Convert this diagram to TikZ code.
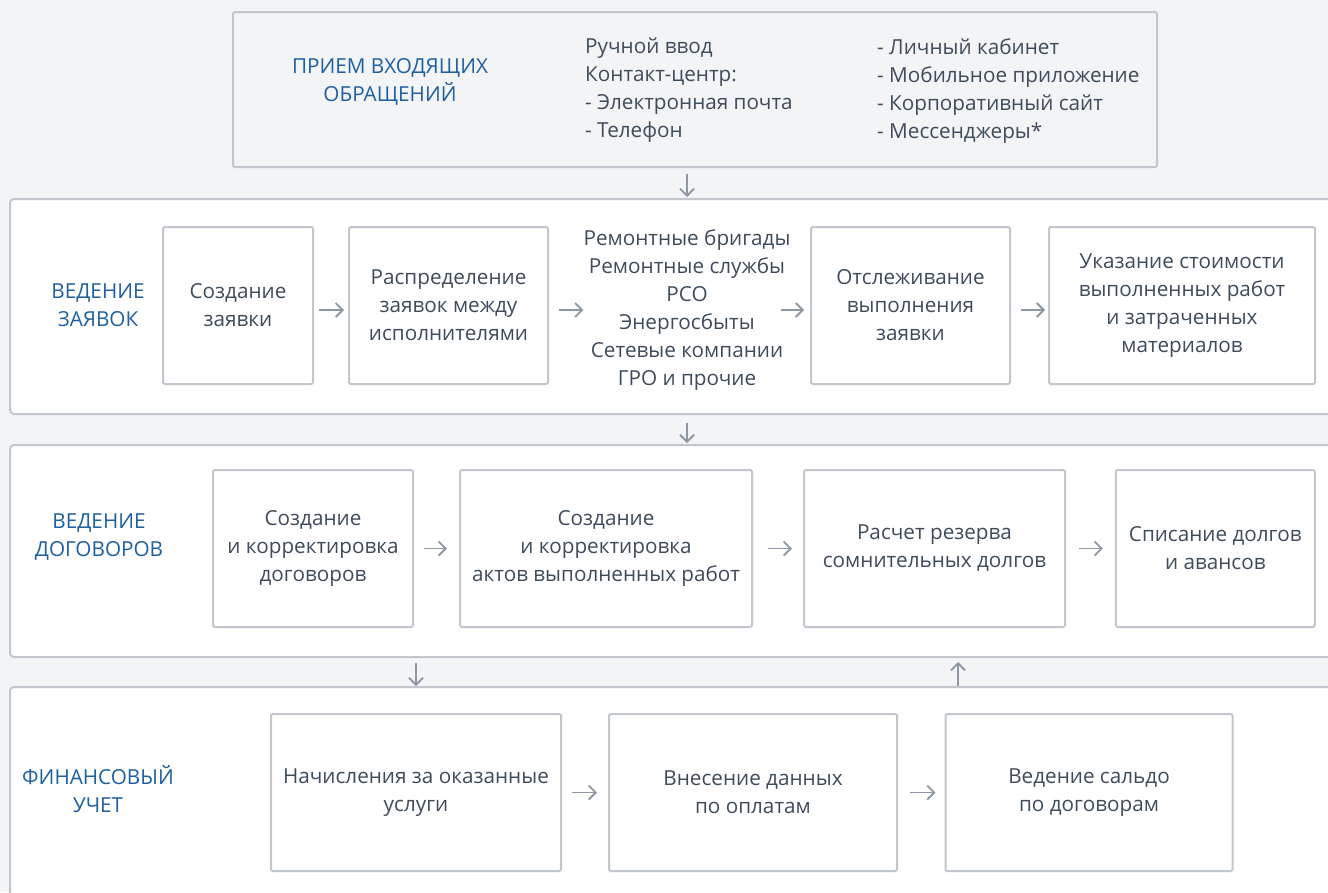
\documentclass[tikz,border=0pt]{standalone}
\usepackage{fontspec}
\setmainfont{Open Sans}
\usepackage{xcolor}
\usepackage{tikz}
\usetikzlibrary{arrows.meta}

\definecolor{pagegray}{HTML}{F3F4F6}
\definecolor{linegray}{HTML}{C2C7CE}
\definecolor{arrowgray}{HTML}{8E98A5}
\definecolor{textgray}{HTML}{3F4C5B}
\definecolor{headblue}{HTML}{1F60A0}

\begin{document}
\begin{tikzpicture}[x=1pt, y=-1pt,
  every node/.style={font=\fontsize{20.7}{28}\selectfont, text=textgray},
  section/.style={draw=linegray, line width=2pt, fill=white, rounded corners=4pt, inner sep=0pt},
  stepbox/.style={draw=linegray, line width=2pt, fill=white, rounded corners=2pt, align=center, minimum height=157pt},
  heading/.style={text=headblue, align=center},
  flow/.style={draw=arrowgray, line width=1.8pt, -{Straight Barb[length=7pt,width=14pt]}}
]

\useasboundingbox (0,0) rectangle (1328,892);
\clip (0,0) rectangle (1328,892);
\fill[pagegray] (0,0) rectangle (1328,892);

% sections
\node[section, fill=pagegray, rounded corners=2pt] (intake) at (695,89.5) [minimum width=924pt, minimum height=155pt] {};
\node[section] (orders) at (677.5,306.5) [minimum width=1335pt, minimum height=215pt] {};
\node[section] (contracts) at (677.5,551) [minimum width=1335pt, minimum height=212pt] {};
\node[section] (finance) at (677.5,796) [minimum width=1335pt, minimum height=218pt] {};

\coordinate (backx) at (958,0);


\begin{scope}

\node[heading] (intakelabel) at (390,82) {ПРИЕМ ВХОДЯЩИХ\\ОБРАЩЕНИЙ};

\node[align=left, anchor=north west, inner sep=0pt] (manual) at (585,38)
{Ручной ввод\\Контакт-центр:\\- Электронная почта\\- Телефон};
\node[align=left, anchor=north west, inner sep=0pt] (online) at (877,38)
{- Личный кабинет\\- Мобильное приложение\\- Корпоративный сайт\\- Мессенджеры*};

\end{scope}


\begin{scope}

\node[heading] (orderslabel) at (98,305) {ВЕДЕНИЕ\\ЗАЯВОК};

\node[stepbox] (o1) at (238,305.5) [minimum width=150pt] {Создание\\заявки};
\node[stepbox] (o2) at (448.5,305.5) [minimum width=199pt] {Распределение\\заявок между\\исполнителями};
\node[align=center, inner sep=0pt] (crews) at (687,310)
{Ремонтные бригады\\Ремонтные службы\\РСО\\Энергосбыты\\Сетевые компании\\ГРО и прочие};
\node[stepbox] (o3) at (910.5,305.5) [minimum width=199pt] {Отслеживание\\выполнения\\заявки};
\node[stepbox] (o4) at (1182,305.5) [minimum width=266pt] {Указание стоимости\\выполненных работ\\и затраченных\\материалов};

\draw[flow, shorten <=5pt, shorten >=4pt] (o1.east |- crews) -- (o2.west |- crews);
\draw[flow, shorten <=10pt, shorten >=0pt] (o2.east |- crews) -- (crews.west);
\draw[flow, shorten <=-10pt, shorten >=6pt] (crews.east) -- (o3.west |- crews);
\draw[flow, shorten <=10pt, shorten >=3pt] (o3.east |- crews) -- (o4.west |- crews);

\end{scope}


\begin{scope}

\node[heading] (contractslabel) at (99,537) {ВЕДЕНИЕ\\ДОГОВОРОВ};

\node[stepbox] (c1) at (313,548.5) [minimum width=200pt] {Создание\\и корректировка\\договоров};
\node[stepbox] (c2) at (606,548.5) [minimum width=292pt] {Создание\\и корректировка\\актов выполненных работ};
\node[stepbox] (c3) at (934.5,548.5) [minimum width=261pt] {Расчет резерва\\сомнительных долгов};
\node[stepbox] (c4) at (1215.3,548.5) [minimum width=199pt] {Списание долгов\\и авансов};

\draw[flow, shorten <=10pt, shorten >=12pt] (c1) -- (c2);
\draw[flow, shorten <=15pt, shorten >=11pt] (c2) -- (c3);
\draw[flow, shorten <=13pt, shorten >=12pt] (c3) -- (c4);

\end{scope}


\begin{scope}

\node[heading] (financelabel) at (98,789.5) {ФИНАНСОВЫЙ\\УЧЕТ};

\node[stepbox] (f1) at (416,792.5) [minimum width=290pt] {Начисления за оказанные\\услуги};
\node[stepbox] (f2) at (753,792.5) [minimum width=288pt] {Внесение данных\\по оплатам};
\node[stepbox] (f3) at (1089,792.5) [minimum width=287pt] {Ведение сальдо\\по договорам};

\draw[flow, shorten <=10pt, shorten >=11pt] (f1) -- (f2);
\draw[flow, shorten <=12pt, shorten >=9pt] (f2) -- (f3);

\end{scope}


% between sections
\draw[flow, shorten <=6pt, shorten >=1pt] (intake.south -| crews) -- (orders.north -| crews);
\draw[flow, shorten <=8pt, shorten >=1pt] (orders.south -| crews) -- (contracts.north -| crews);
\draw[flow, shorten <=5pt, shorten >=0pt] (contracts.south -| f1) -- (finance.north -| f1);
\draw[flow, shorten <=0pt, shorten >=4pt] (finance.north -| backx) -- (contracts.south -| backx);

\end{tikzpicture}
\end{document}
